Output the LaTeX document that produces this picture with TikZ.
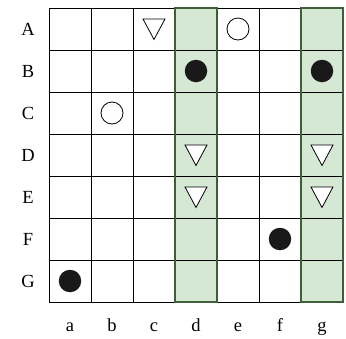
\documentclass[tikz,border=0pt]{standalone}
\usepackage{fontspec}
\setmainfont{Liberation Serif}
\definecolor{lgreen}{HTML}{D5E8D4}
\definecolor{dgreen}{HTML}{3F5F38}
\begin{document}
\begin{tikzpicture}[x=1pt,y=-1pt,
  lbl/.style={font=\fontsize{18.5}{18.5}\selectfont, inner sep=0pt},
  gridline/.style={line width=0.9pt, black},
  tri/.style={draw=black, line width=0.8pt, fill=white},
  opencirc/.style={circle, draw=black, line width=0.8pt, minimum size=22pt, inner sep=0pt},
  fullcirc/.style={circle, fill=black!90, minimum size=22.5pt, inner sep=0pt}]
\useasboundingbox (0,0) rectangle (346,338);
\def\L{49}\def\T{8}\def\S{42}
% green columns
\fill[lgreen] (\L+3*\S,\T) rectangle (\L+4*\S,\T+7*\S);
\fill[lgreen] (\L+6*\S,\T) rectangle (\L+7*\S,\T+7*\S);
% grid
\foreach \i in {0,...,7} {
  \draw[gridline] (\L,\T+\i*\S) -- (\L+7*\S,\T+\i*\S);
  \draw[gridline] (\L+\i*\S,\T) -- (\L+\i*\S,\T+7*\S);
}
\draw[dgreen, line width=1.1pt] (\L+3*\S,\T) rectangle (\L+4*\S,\T+7*\S);
\draw[dgreen, line width=1.1pt] (\L+6*\S,\T) rectangle (\L+7*\S,\T+7*\S);
% labels
\foreach \r [count=\i from 0] in {A,B,C,D,E,F,G}
  \node[lbl] (row\r) at (28,\T+\S/2+\i*\S) {\r};
\foreach \c [count=\i from 0] in {a,b,c,d,e,f,g}
  \node[lbl, anchor=base] (col\c) at (\L+\S/2+\i*\S,331) {\c};
% markers
\newcommand{\tridown}[2]{%
  \draw[tri] ({\L+\S/2+#1*\S-11},{\T+\S/2+#2*\S-10}) -- ({\L+\S/2+#1*\S+11},{\T+\S/2+#2*\S-10}) -- ({\L+\S/2+#1*\S},{\T+\S/2+#2*\S+10.5}) -- cycle;}
\tridown{2}{0}
\tridown{3}{3}
\tridown{6}{3}
\tridown{3}{4}
\tridown{6}{4}
\node[opencirc] (oAe) at (\L+\S/2+4*\S,\T+\S/2) {};
\node[opencirc] (oCb) at (\L+\S/2+1*\S,\T+\S/2+2*\S) {};
\node[fullcirc] (fBd) at (\L+\S/2+3*\S,\T+\S/2+1*\S) {};
\node[fullcirc] (fBg) at (\L+\S/2+6*\S,\T+\S/2+1*\S) {};
\node[fullcirc] (fFf) at (\L+\S/2+5*\S,\T+\S/2+5*\S) {};
\node[fullcirc] (fGa) at (\L+\S/2+0*\S,\T+\S/2+6*\S) {};
\end{tikzpicture}
\end{document}
